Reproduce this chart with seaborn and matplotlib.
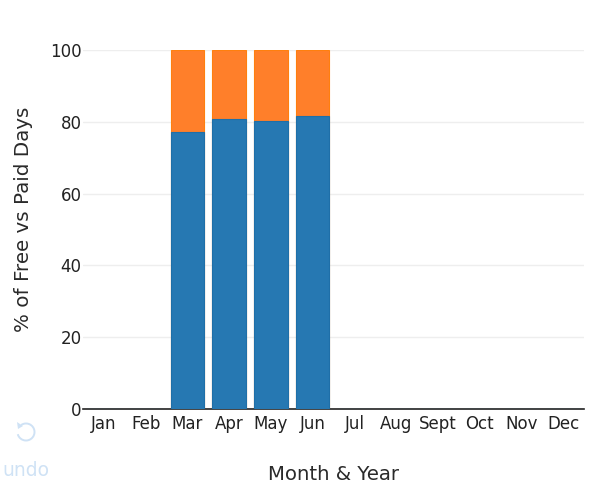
import pandas as pd
from matplotlib import pyplot as plt
from matplotlib.patches import Arc, Polygon
import seaborn as sns

months = ['Jan', 'Feb', 'Mar', 'Apr', 'May', 'Jun', 'Jul', 'Aug', 'Sept', 'Oct', 'Nov', 'Dec']
free_pct = [0, 0, 77.2, 80.8, 80.2, 81.6, 0, 0, 0, 0, 0, 0]
paid_pct = [0, 0, 22.8, 19.2, 19.8, 18.4, 0, 0, 0, 0, 0, 0]
y_ticks = [0, 20, 40, 60, 80, 100]

sns.set_style('white')
plt.rcParams['font.family'] = ['DejaVu Sans']

df = pd.DataFrame({'month': months, 'free': free_pct, 'paid': paid_pct})
df['total'] = df['free'] + df['paid']

fig = plt.figure(figsize=(6.08, 4.99), dpi=100)
ax = fig.add_axes([83 / 608, 1 - 409 / 499, 501 / 608, 359 / 499])

# totals go down first, free share is drawn over them
sns.barplot(data=df, x='month', y='total', color='#ff7f2a', saturation=1, width=0.8,
            linewidth=0.8, edgecolor='#ff7f0e', ax=ax, zorder=2)
sns.barplot(data=df, x='month', y='free', color='#2678b2', saturation=1, width=0.8,
            linewidth=0.8, edgecolor='#1f6fa8', ax=ax, zorder=3)

ax.set_xlim(-0.5, 11.5)
ax.set_ylim(0, 100)
ax.set_yticks(y_ticks)
ax.yaxis.grid(True, color='#eeeeee', lw=1)
ax.set_axisbelow(True)
ax.tick_params(axis='both', labelsize=12, length=0, labelcolor='#222222')
ax.tick_params(axis='x', pad=4)
ax.tick_params(axis='y', pad=1)
ax.set_xlabel('')
ax.set_ylabel('')

for side in ['top', 'right', 'left']:
    ax.spines[side].set_visible(False)
ax.spines['bottom'].set_color('#222222')
ax.spines['bottom'].set_linewidth(1.2)

fig.text(333.5 / 608, 1 - 475 / 499, 'Month & Year', fontsize=14.2, color='#2a2a2a', ha='center', va='center')
fig.text(24 / 608, 1 - 219 / 499, '% of Free vs Paid Days', fontsize=14.3, color='#2a2a2a',
         ha='center', va='center', rotation=90)

# faded undo control bottom left
overlay = fig.add_axes([0, 0, 1, 1], facecolor='none')
overlay.set_xlim(0, 608)
overlay.set_ylim(499, 0)
overlay.axis('off')
overlay.add_patch(Arc((26, 432), 17, 17, theta1=-125, theta2=165, color='#cfe2f5', lw=1.4))
overlay.add_patch(Polygon([[17, 422], [23, 426], [18, 429]], closed=True, color='#cfe2f5', lw=0))
overlay.text(26, 471, 'undo', fontsize=13.5, color='#cfe2f5', ha='center', va='center')

fig.savefig('out.png', dpi=100)
